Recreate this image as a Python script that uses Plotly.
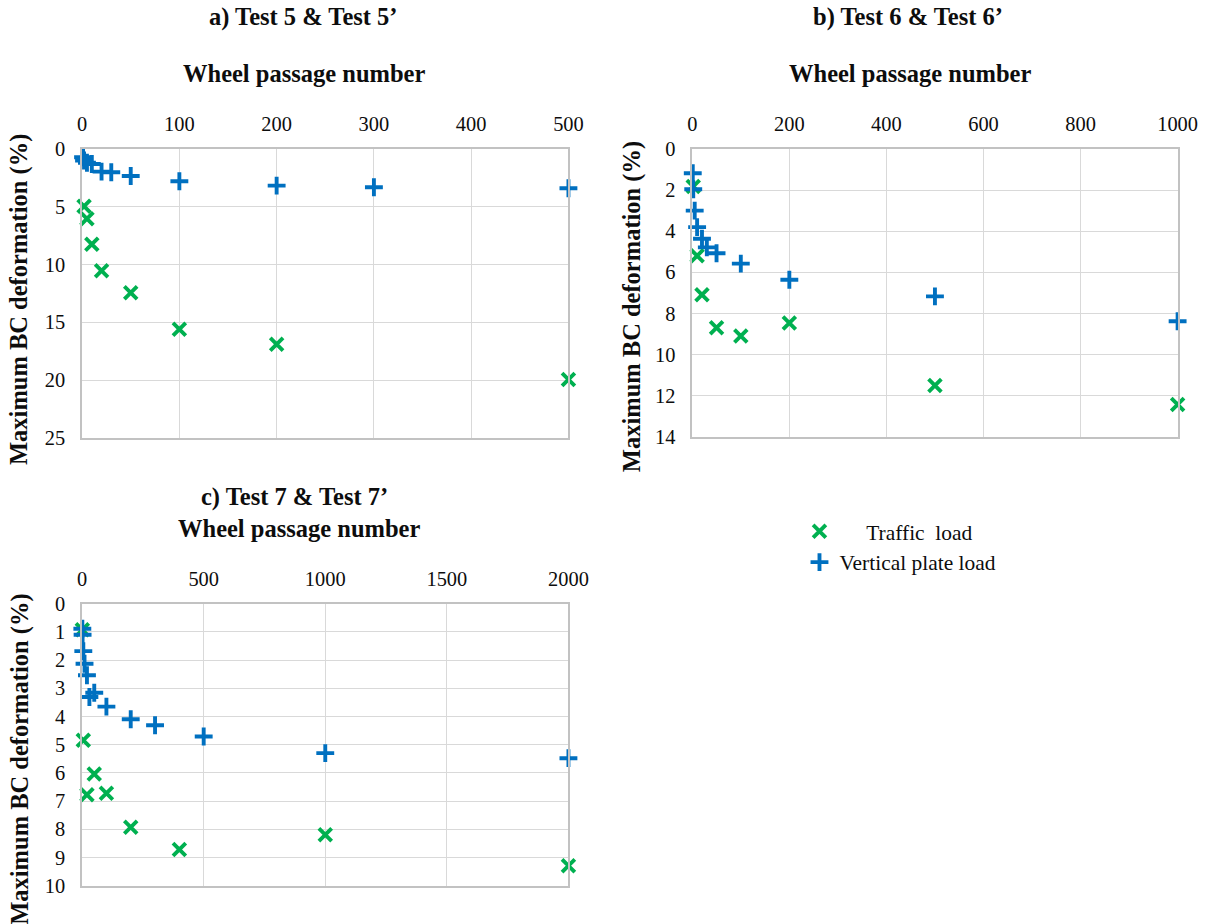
import plotly.graph_objects as go

# ---------------- data ----------------
# Panel a) Test 5 & Test 5'
a_traffic_x = [2, 5, 10, 20, 50, 100, 200, 500]
a_traffic_y = [4.95, 6.05, 8.25, 10.55, 12.45, 15.6, 16.9, 19.95]
a_plate_x = [1, 2, 5, 10, 20, 30, 50, 100, 200, 300, 500]
a_plate_y = [0.72, 1.0, 1.2, 1.3, 1.96, 2.02, 2.34, 2.8, 3.18, 3.32, 3.4]

# Panel b) Test 6 & Test 6'
b_traffic_x = [2, 10, 20, 50, 100, 200, 500, 1000]
b_traffic_y = [1.83, 5.2, 7.09, 8.7, 9.1, 8.46, 11.5, 12.43]
b_plate_x = [1, 2, 5, 10, 20, 30, 50, 100, 200, 500, 1000]
b_plate_y = [1.18, 1.96, 3.0, 3.8, 4.37, 4.79, 5.07, 5.58, 6.36, 7.17, 8.38]

# Panel c) Test 7 & Test 7'
c_traffic_x = [1, 5, 20, 50, 100, 200, 400, 1000, 2000]
c_traffic_y = [0.92, 4.84, 6.78, 6.04, 6.72, 7.93, 8.72, 8.2, 9.3]
c_plate_x = [1, 2, 5, 10, 20, 30, 50, 100, 200, 300, 500, 1000, 2000]
c_plate_y = [0.89, 1.1, 1.68, 2.13, 2.54, 3.31, 3.16, 3.65, 4.1, 4.31, 4.71, 5.3, 5.48]

panel_titles = ["a) Test 5 & Test 5\u2019", "b) Test 6 & Test 6\u2019", "c) Test 7 & Test 7\u2019"]
x_title = "Wheel passage number"
y_title = "Maximum BC deformation (%)"
series_names = ["Traffic load", "Vertical plate load"]

# ---------------- styling / layout ----------------
W, H = 1230, 938
# mapping from target-picture pixels to page pixels (compensates photo framing)
S_X, S_Y, O_X, O_Y = 0.981, 0.977, 3.8, 11.0
K = 1.0 / ((S_X + S_Y) / 2)

GREEN = "#00B050"
BLUE = "#0070C0"
FONT = "Liberation Serif"
GRID = "#d9d9d9"
LINE = "#c2c2c2"

def page_x(r):
    return (r - O_X) / S_X

def page_y(r):
    return (r - O_Y) / S_Y

def fx(r):
    return page_x(r) / W

def fy(r):
    return 1 - page_y(r) / H

fig = go.Figure()

panels = [
    (a_traffic_x, a_traffic_y, a_plate_x, a_plate_y, "x", "y"),
    (b_traffic_x, b_traffic_y, b_plate_x, b_plate_y, "x2", "y2"),
    (c_traffic_x, c_traffic_y, c_plate_x, c_plate_y, "x3", "y3"),
]

for i, (tx, ty, px_, py, xa, ya) in enumerate(panels):
    fig.add_trace(go.Scatter(
        x=tx, y=ty, mode="markers", name=("\u00a0" * 5) + "Traffic\u00a0 load",
        showlegend=(i == 0), xaxis=xa, yaxis=ya, cliponaxis=False,
        marker=dict(symbol="x-thin", size=12.5 * K, color=GREEN,
                    line=dict(color=GREEN, width=3.8 * K)),
    ))
for i, (tx, ty, px_, py, xa, ya) in enumerate(panels):
    fig.add_trace(go.Scatter(
        x=px_, y=py, mode="markers", name=series_names[1],
        showlegend=(i == 0), xaxis=xa, yaxis=ya, cliponaxis=False,
        marker=dict(symbol="cross-thin", size=12.5 * K, color=BLUE,
                    line=dict(color=BLUE, width=3.8 * K)),
    ))

tickfont = dict(family=FONT, size=20 * K, color="#0d0d0d")

def xax(domain, rng, dtick, anchor):
    return dict(domain=domain, range=rng, dtick=dtick, tick0=0, side="top",
                anchor=anchor, showgrid=True, gridcolor=GRID, gridwidth=1.4,
                showline=True, linecolor=LINE, linewidth=1.6, mirror=True,
                ticks="", ticklabelstandoff=8, tickfont=tickfont,
                zeroline=False, fixedrange=True)

def yax(domain, rng, dtick, anchor):
    return dict(domain=domain, range=rng, dtick=dtick, tick0=0,
                anchor=anchor, showgrid=True, gridcolor=GRID, gridwidth=1.4,
                showline=True, linecolor=LINE, linewidth=1.6, mirror=True,
                ticks="", ticklabelstandoff=11, tickfont=tickfont,
                zeroline=False, fixedrange=True)

# plot areas in target-picture pixels (left, right, top, bottom)
A = (81, 568, 149, 438)
B = (692, 1178, 149, 437)
C = (81, 568, 604, 886)

def dom(box):
    x0, x1, y0, y1 = box
    return [fx(x0), fx(x1)], [fy(y1), fy(y0)]

ax_dx, ax_dy = dom(A)
bx_dx, bx_dy = dom(B)
cx_dx, cx_dy = dom(C)

fig.update_layout(
    width=W, height=H,
    margin=dict(l=0, r=0, t=0, b=0),
    paper_bgcolor="white", plot_bgcolor="white",
    font=dict(family=FONT, color="#0d0d0d"),
    xaxis=xax(ax_dx, [0, 500], 100, "y"),
    yaxis=yax(ax_dy, [25, 0], 5, "x"),
    xaxis2=xax(bx_dx, [0, 1000], 200, "y2"),
    yaxis2=yax(bx_dy, [14, 0], 2, "x2"),
    xaxis3=xax(cx_dx, [0, 2000], 500, "y3"),
    yaxis3=yax(cx_dy, [10, 0], 1, "x3"),
    showlegend=True,
    legend=dict(x=(page_x(818) - 19) / W, y=1 - (page_y(532) - 21.5) / H,
                xanchor="left", yanchor="top",
                font=dict(family=FONT, size=21 * K, color="#0d0d0d"),
                bgcolor="rgba(0,0,0,0)", tracegroupgap=0, itemwidth=30),
)

annotations = []
title_font = dict(family=FONT, size=24 * K, color="#0d0d0d")
# panel titles
for text, xc, yc in [(panel_titles[0], 303, 17), (panel_titles[1], 908, 17), (panel_titles[2], 294, 497)]:
    annotations.append(dict(text="<b>%s</b>" % text, x=fx(xc), y=fy(yc), xref="paper", yref="paper",
                            xanchor="center", yanchor="middle", showarrow=False, font=title_font))
# x titles
for xc, yc in [(303, 74), (910, 74), (298, 529)]:
    annotations.append(dict(text="<b>%s</b>" % x_title, x=fx(xc), y=fy(yc), xref="paper", yref="paper",
                            xanchor="center", yanchor="middle", showarrow=False, font=title_font))
# y titles
for xc, yc in [(18, 300), (632, 307), (18, 760)]:
    annotations.append(dict(text="<b>%s</b>" % y_title, x=fx(xc), y=fy(yc), xref="paper", yref="paper",
                            xanchor="center", yanchor="middle", showarrow=False, textangle=-90,
                            font=title_font))
fig.update_layout(annotations=annotations)

fig.write_html(
    "out.html",
    config={"displayModeBar": False},
    post_script="document.body.style.margin='0px';document.body.style.overflow='hidden';"
                "document.documentElement.style.overflow='hidden';",
)
